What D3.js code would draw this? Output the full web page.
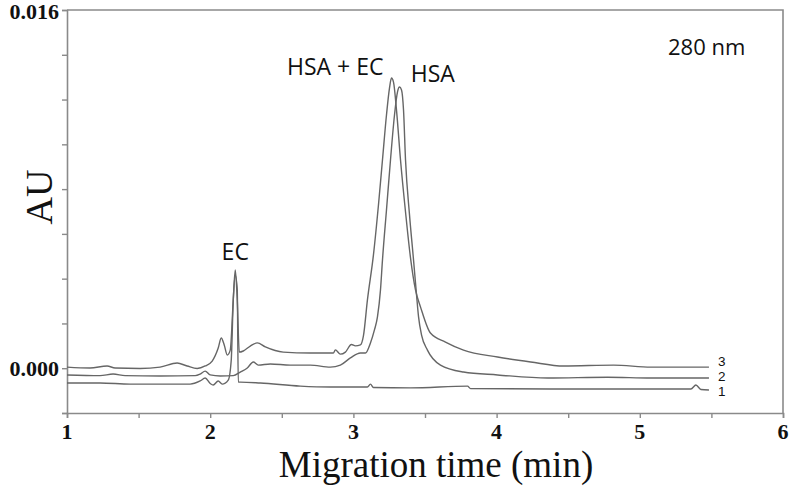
<!DOCTYPE html>
<html>
<head>
<meta charset="utf-8">
<script src="https://cdn.jsdelivr.net/npm/d3@7/dist/d3.min.js"></script>
<style>
  html, body { margin: 0; padding: 0; background: #fff; }
  svg { display: block; }
</style>
</head>
<body>
<svg id="chart" width="790" height="487"></svg>
<script>
// ---- data (migration time in min, absorbance in AU) ----
const trace3 = [ // HSA + EC
  [1.000, 0.00005], [1.161, 0.00001], [1.280, 0.00010], [1.336, 0.00001],
  [1.510, -0.00001], [1.650, 0.00005], [1.769, 0.00023], [1.839, 0.00010],
  [1.909, -0.00001], [1.965, 0.00010], [2.014, 0.00032], [2.056, 0.00090],
  [2.077, 0.00135], [2.098, 0.00104], [2.119, 0.00059], [2.140, 0.00081],
  [2.161, 0.00305], [2.175, 0.00439], [2.189, 0.00305], [2.203, 0.00072],
  [2.231, 0.00077], [2.280, 0.00099], [2.329, 0.00113], [2.385, 0.00095],
  [2.510, 0.00072], [2.699, 0.00068], [2.860, 0.00068], [2.874, 0.00082],
  [2.909, 0.00063], [2.944, 0.00072], [2.986, 0.00106], [3.014, 0.00100],
  [3.049, 0.00104], [3.070, 0.00144], [3.098, 0.00305], [3.140, 0.00506],
  [3.175, 0.00729], [3.203, 0.00930], [3.231, 0.01131], [3.252, 0.01251],
  [3.266, 0.01296], [3.280, 0.01278], [3.301, 0.01153], [3.329, 0.00930],
  [3.364, 0.00698], [3.399, 0.00492], [3.434, 0.00349], [3.469, 0.00273],
  [3.538, 0.00157], [3.643, 0.00117], [3.769, 0.00081], [4.007, 0.00050],
  [4.238, 0.00028], [4.469, 0.00010], [4.818, 0.00014], [5.077, 0.00005],
  [5.483, 0.00005]
];
const trace2 = [ // HSA
  [1.000, -0.00030], [1.231, -0.00033], [1.322, -0.00026], [1.406, -0.00033],
  [1.650, -0.00035], [1.895, -0.00033], [1.930, -0.00026], [1.965, -0.00013],
  [2.000, -0.00030], [2.070, -0.00035], [2.161, -0.00033], [2.210, -0.00017],
  [2.259, 0.00001], [2.301, 0.00028], [2.336, 0.00014], [2.420, 0.00019],
  [2.559, 0.00014], [2.699, 0.00014], [2.839, 0.00005], [2.909, 0.00014],
  [2.979, 0.00046], [3.049, 0.00068], [3.084, 0.00068], [3.119, 0.00113],
  [3.147, 0.00171], [3.168, 0.00229], [3.189, 0.00349], [3.203, 0.00483],
  [3.231, 0.00707], [3.259, 0.00930], [3.287, 0.01131], [3.308, 0.01234],
  [3.322, 0.01256], [3.336, 0.01243], [3.350, 0.01153], [3.364, 0.00930],
  [3.392, 0.00684], [3.420, 0.00483], [3.441, 0.00327], [3.455, 0.00229],
  [3.476, 0.00148], [3.517, 0.00081], [3.608, 0.00014], [3.769, -0.00017],
  [4.007, -0.00030], [4.357, -0.00044], [4.776, -0.00040], [5.077, -0.00044],
  [5.483, -0.00044]
];
const trace1 = [ // EC
  [1.000, -0.00066], [1.231, -0.00066], [1.441, -0.00071], [1.650, -0.00071],
  [1.860, -0.00071], [1.930, -0.00057], [1.965, -0.00044], [2.000, -0.00068],
  [2.021, -0.00075], [2.056, -0.00057], [2.084, -0.00071], [2.126, -0.00053],
  [2.147, 0.00037], [2.161, 0.00305], [2.175, 0.00416], [2.189, 0.00349],
  [2.196, -0.00062], [2.210, -0.00062], [2.350, -0.00066], [2.629, -0.00080],
  [2.839, -0.00084], [3.098, -0.00084], [3.119, -0.00071], [3.140, -0.00086],
  [3.399, -0.00088], [3.797, -0.00080], [3.818, -0.00091], [4.378, -0.00093],
  [4.727, -0.00093], [5.357, -0.00093], [5.392, -0.00075], [5.427, -0.00095],
  [5.483, -0.00097]
];
const traces = [trace1, trace2, trace3];
const traceLabels = ["1", "2", "3"];

const xDomain = [1, 6];
const yDomain = [-0.002, 0.016];
const xTicks = [1, 1.5, 2, 2.5, 3, 3.5, 4, 4.5, 5, 5.5, 6];
const xTickLabels = [1, 2, 3, 4, 5, 6];
const yTicks = [-0.002, 0, 0.002, 0.004, 0.006, 0.008, 0.010, 0.012, 0.014, 0.016];
const yTickLabels = [0, 0.016];

const peakLabels = [
  { text: "EC", t: 2.175, au: 0.00483, anchor: "middle" },
  { text: "HSA + EC", t: 3.21, au: 0.0131, anchor: "end" },
  { text: "HSA", t: 3.40, au: 0.01278, anchor: "start" }
];
const wavelength = "280 nm";

// ---- layout ----
const svg = d3.select("#chart");
const mLeft = 67, mRight = 783, mTop = 10, mBottom = 413;
const x = d3.scaleLinear().domain(xDomain).range([mLeft, mRight]);
const y = d3.scaleLinear().domain(yDomain).range([mBottom, mTop]);

const axisColor = "#8a8a8a";
const lineColor = "#666666";

// frame (top & right)
svg.append("path")
  .attr("d", `M${mLeft},${mTop}H${mRight}V${mBottom}`)
  .attr("fill", "none").attr("stroke", axisColor).attr("stroke-width", 1.6);

// x axis
const xAxis = svg.append("g").attr("transform", `translate(0,${mBottom})`)
  .call(d3.axisBottom(x).tickValues(xTicks).tickSize(5).tickFormat(""));
xAxis.select(".domain").attr("stroke", axisColor).attr("stroke-width", 1.6);
xAxis.selectAll(".tick line").attr("stroke", axisColor).attr("stroke-width", 1.4);

svg.append("g").selectAll("text").data(xTickLabels).join("text")
  .attr("x", d => x(d)).attr("y", 439)
  .attr("text-anchor", "middle")
  .attr("font-family", "Liberation Serif, Times New Roman, serif")
  .attr("font-weight", "bold").attr("font-size", 22).attr("fill", "#111")
  .text(d => d);

// y axis
const yAxis = svg.append("g").attr("transform", `translate(${mLeft},0)`)
  .call(d3.axisLeft(y).tickValues(yTicks).tickSize(5).tickFormat(""));
yAxis.select(".domain").attr("stroke", axisColor).attr("stroke-width", 1.6);
yAxis.selectAll(".tick line").attr("stroke", axisColor).attr("stroke-width", 1.4);

svg.append("g").selectAll("text").data(yTickLabels).join("text")
  .attr("x", 59).attr("y", d => y(d) + (d === 0 ? 8 : 9))
  .attr("text-anchor", "end")
  .attr("font-family", "Liberation Serif, Times New Roman, serif")
  .attr("font-weight", "bold").attr("font-size", 22).attr("fill", "#111")
  .text(d => d3.format(".3f")(d));

// axis titles
svg.append("text")
  .attr("x", 436).attr("y", 477).attr("text-anchor", "middle")
  .attr("font-family", "Liberation Serif, Times New Roman, serif")
  .attr("font-size", 37).attr("fill", "#111")
  .text("Migration time (min)");

svg.append("text")
  .attr("transform", "translate(52,197) rotate(-90)")
  .attr("text-anchor", "middle")
  .attr("font-family", "Liberation Serif, Times New Roman, serif")
  .attr("font-size", 38).attr("fill", "#111")
  .text("AU");

// traces
const line = d3.line().x(d => x(d[0])).y(d => y(d[1])).curve(d3.curveMonotoneX);
svg.append("g").selectAll("path").data(traces).join("path")
  .attr("d", line)
  .attr("fill", "none").attr("stroke", lineColor).attr("stroke-width", 1.4)
  .attr("stroke-linejoin", "round");

// trace numbers, stacked just right of the trace ends
const endX = x(trace1[trace1.length - 1][0]) + 9;
const baseY = y(trace1[trace1.length - 1][1]);
svg.append("g").selectAll("text").data(traceLabels).join("text")
  .attr("x", endX)
  .attr("y", (d, i) => baseY + 6 - i * 15)
  .attr("font-family", "Liberation Sans, Arial, sans-serif")
  .attr("font-size", 13.5).attr("fill", "#111")
  .text(d => d);

// peak labels
svg.append("g").selectAll("text").data(peakLabels).join("text")
  .attr("x", d => x(d.t)).attr("y", d => y(d.au))
  .attr("text-anchor", d => d.anchor)
  .attr("font-family", "Open Sans, sans-serif")
  .attr("font-size", 23).attr("fill", "#111")
  .text(d => d.text);

svg.append("text")
  .attr("x", 668).attr("y", 55)
  .attr("font-family", "Open Sans, sans-serif")
  .attr("font-size", 22).attr("fill", "#111")
  .text(wavelength);
</script>
</body>
</html>
